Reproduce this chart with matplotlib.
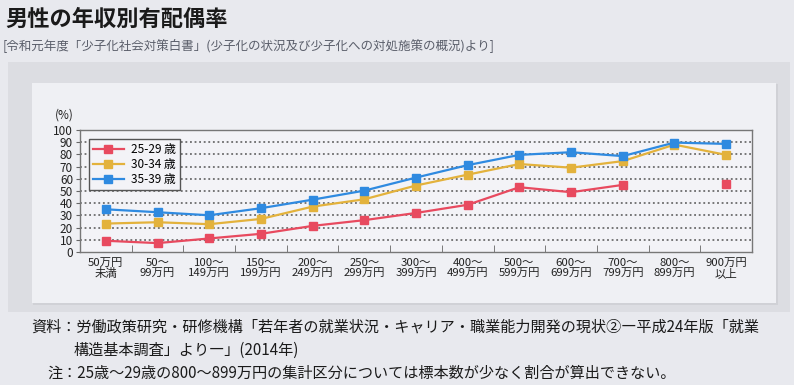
import matplotlib
matplotlib.use("Agg")
import matplotlib.pyplot as plt
from matplotlib.patches import Rectangle

plt.rcParams['font.family'] = ['Noto Sans CJK JP', 'DejaVu Sans']

categories = ["50万円\n未満", "50～\n99万円", "100～\n149万円", "150～\n199万円", "200～\n249万円",
              "250～\n299万円", "300～\n399万円", "400～\n499万円", "500～\n599万円", "600～\n699万円",
              "700～\n799万円", "800～\n899万円", "900万円\n以上"]
series_names = ["25-29 歳", "30-34 歳", "35-39 歳"]
age_25_29 = [9.2, 7.3, 11.1, 14.9, 21.4, 26.1, 32.0, 38.7, 53.1, 49.0, 55.0, None, 55.5]
age_30_34 = [23.3, 24.4, 22.8, 27.1, 37.2, 43.2, 54.5, 63.4, 72.1, 69.1, 74.5, 88.0, 79.6]
age_35_39 = [35.0, 32.6, 30.1, 35.9, 42.9, 50.3, 61.0, 71.2, 79.6, 81.8, 78.6, 89.7, 88.6]
yticks = [0, 10, 20, 30, 40, 50, 60, 70, 80, 90, 100]

title = "男性の年収別有配偶率"
subtitle = "[令和元年度「少子化社会対策白書」(少子化の状況及び少子化への対処施策の概況)より]"
src1 = "資料：労働政策研究・研修機構「若年者の就業状況・キャリア・職業能力開発の現状②―平成24年版「就業"
src2 = "構造基本調査」より―」(2014年)"
note = "注：25歳～29歳の800～899万円の集計区分については標本数が少なく割合が算出できない。"

colors = ["#e84a5f", "#e3b23c", "#2f8ae0"]

W, H = 794, 385
fig = plt.figure(figsize=(W / 100, H / 100), dpi=100)
fig.patch.set_facecolor("#e8e9ee")


def px_rect(x0, y0, x1, y1, color, z=0):
    fig.add_artist(Rectangle((x0 / W, 1 - y1 / H), (x1 - x0) / W, (y1 - y0) / H,
                             transform=fig.transFigure, facecolor=color, edgecolor="none", zorder=z))


px_rect(8, 62, 790, 312, "#dcdde2", 0)
px_rect(33, 84, 778, 305, "#d0d1d6", 0)
px_rect(32, 83, 776, 303, "#eff0f4", 0)

fig.text(5 / W, 1 - 19 / H, title, fontsize=16, fontweight="bold", color="#1a1a1a", va="center", ha="left")
fig.text(3 / W, 1 - 45 / H, subtitle, fontsize=9.0, color="#5a5e6a", va="center", ha="left")

ax = fig.add_axes([80 / W, 1 - 252 / H, (752 - 80) / W, (252 - 130) / H])
ax.set_facecolor("#f3f3f7")
x = list(range(len(categories)))

for vals, c, name in zip([age_25_29, age_30_34, age_35_39], colors, series_names):
    ys = [float('nan') if v is None else v for v in vals]
    ax.plot(x, ys, color=c, lw=1.6, marker="s", ms=6.3, mec=c, mfc=c, label=name, zorder=3)

ax.set_xlim(-0.5, len(categories) - 0.5)
ax.set_ylim(0, 100)
ax.set_yticks(yticks)
ax.set_yticklabels([str(v) for v in yticks], fontsize=8.5, color="#222")
ax.set_xticks(x)
ax.set_xticklabels(categories, fontsize=8.2, color="#222", linespacing=1.05)
ax.tick_params(axis="x", length=0, pad=4)
ax.set_xticks([i + 0.5 for i in range(len(categories) - 1)], minor=True)
ax.tick_params(axis="x", which="minor", direction="in", length=5, color="#666")
ax.tick_params(axis="y", direction="out", length=3, color="#666", pad=2)
for v in yticks[1:-1]:
    ax.axhline(v, color="#555", lw=1.1, ls=(0, (1.2, 1.8)), zorder=1)
for s in ax.spines.values():
    s.set_color("#777")
    s.set_linewidth(1.0)

ax.text(-0.024, 1.12, "(%)", transform=ax.transAxes, fontsize=8.5, ha="center", va="center", color="#222")

leg = ax.legend(loc="upper left", bbox_to_anchor=(0.013, 0.925), borderaxespad=0, fontsize=8.5, frameon=True,
                fancybox=False, edgecolor="#555", facecolor="#f3f3f7", framealpha=1,
                handlelength=2.6, borderpad=0.35, labelspacing=0.15, handletextpad=0.6)
leg.get_frame().set_linewidth(1.0)

fig.text(31 / W, 1 - 327 / H, src1, fontsize=10.9, color="#1a1a1a", va="center", ha="left")
fig.text(74 / W, 1 - 350 / H, src2, fontsize=10.9, color="#1a1a1a", va="center", ha="left")
fig.text(47 / W, 1 - 373 / H, note, fontsize=10.9, color="#1a1a1a", va="center", ha="left")

fig.savefig("out.png", dpi=100, facecolor=fig.get_facecolor())
